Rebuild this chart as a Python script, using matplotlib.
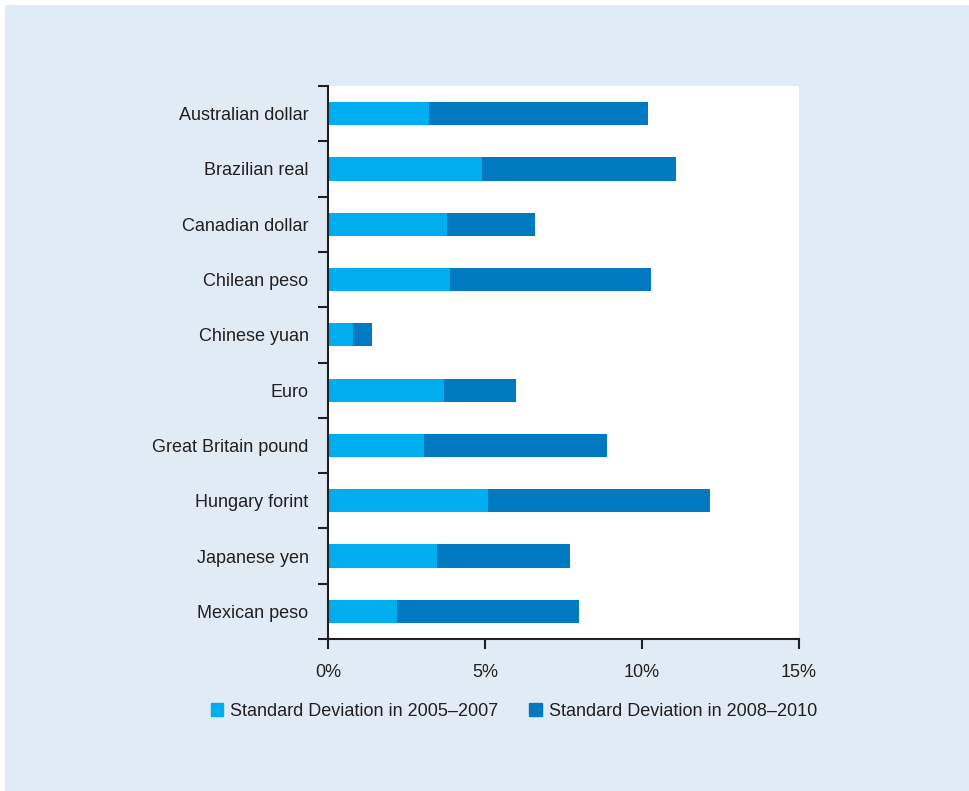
import numpy as np
import matplotlib.pyplot as plt
from matplotlib.patches import Rectangle, Patch

plt.rcParams['font.family'] = ['Liberation Sans', 'DejaVu Sans']

# --- Data ---
currencies = ['Australian dollar', 'Brazilian real', 'Canadian dollar', 'Chilean peso',
              'Chinese yuan', 'Euro', 'Great Britain pound', 'Hungary forint',
              'Japanese yen', 'Mexican peso']
sd_2005_2007 = [3.21, 4.90, 3.78, 3.88, 0.79, 3.69, 3.05, 5.09, 3.47, 2.19]
sd_2008_2010 = [6.98, 6.19, 2.81, 6.41, 0.60, 2.29, 5.84, 7.08, 4.24, 5.80]
x_ticks = [0, 5, 10, 15]
x_labels = ['0%', '5%', '10%', '15%']

light = '#00aeef'
dark = '#0079c1'
bg = '#e1ebf5'
ink = '#231f20'

fig = plt.figure(figsize=(9.69, 7.91), dpi=100, facecolor='white')
fig.patches.append(Rectangle((5 / 969, 0), 1, 1 - 5 / 791, transform=fig.transFigure,
                             facecolor=bg, edgecolor='none', zorder=-10))
ax = fig.add_axes([328 / 969, 1 - 639 / 791, 471 / 969, 553 / 791])
ax.set_facecolor('white')

y = np.arange(len(currencies))
ax.barh(y, sd_2005_2007, height=0.42, color=light)
ax.barh(y, sd_2008_2010, left=sd_2005_2007, height=0.42, color=dark)

ax.set_xlim(0, 15)
ax.set_ylim(len(currencies) - 0.5, -0.5)
ax.set_xticks(x_ticks)
ax.set_xticklabels(x_labels)
ax.set_yticks(y)
ax.set_yticklabels(currencies)
ax.set_yticks(np.arange(-0.5, len(currencies)), minor=True)

for side in ['top', 'right']:
    ax.spines[side].set_visible(False)
for side in ['left', 'bottom']:
    ax.spines[side].set_color(ink)
    ax.spines[side].set_linewidth(1.5)

ax.tick_params(axis='y', which='major', length=0, pad=14, labelsize=13, labelcolor=ink)
ax.tick_params(axis='y', which='minor', length=7, width=1.5, color=ink)
ax.tick_params(axis='x', length=7, width=1.5, color=ink, pad=11, labelsize=13, labelcolor=ink)

handles = [Patch(color=light), Patch(color=dark)]
fig.legend(handles, ['Standard Deviation in 2005\u20132007', 'Standard Deviation in 2008\u20132010'],
           loc='center', bbox_to_anchor=(514 / 969, 1 - 711 / 791), ncol=2, frameon=False,
           fontsize=13, handlelength=0.7, handleheight=0.7, handletextpad=0.4,
           columnspacing=1.7, labelcolor=ink)

fig.savefig('out.png', dpi=100, facecolor=fig.get_facecolor())
